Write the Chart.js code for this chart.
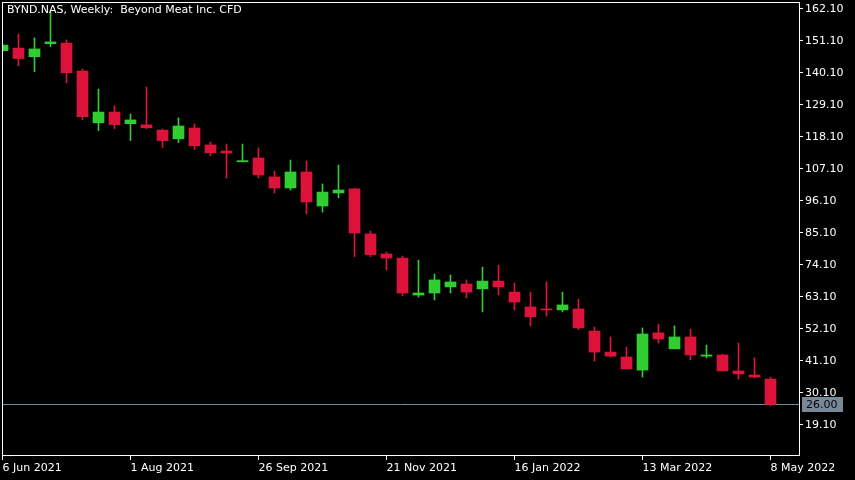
<!DOCTYPE html>
<html>
<head>
<meta charset="utf-8">
<title>BYND.NAS Weekly</title>
<script src="https://cdn.jsdelivr.net/npm/chart.js@4.4.1/dist/chart.umd.min.js"></script>
<style>
  html, body { margin: 0; padding: 0; background: #000; }
  canvas { display: block; }
</style>
</head>
<body>
<canvas id="chart" width="855" height="480"></canvas>
<script>
// weekly candles, 6 Jun 2021 .. 8 May 2022
const weeks = [
  "6 Jun 2021", "13 Jun 2021", "20 Jun 2021", "27 Jun 2021",
  "4 Jul 2021", "11 Jul 2021", "18 Jul 2021", "25 Jul 2021",
  "1 Aug 2021", "8 Aug 2021", "15 Aug 2021", "22 Aug 2021", "29 Aug 2021",
  "5 Sep 2021", "12 Sep 2021", "19 Sep 2021", "26 Sep 2021",
  "3 Oct 2021", "10 Oct 2021", "17 Oct 2021", "24 Oct 2021", "31 Oct 2021",
  "7 Nov 2021", "14 Nov 2021", "21 Nov 2021", "28 Nov 2021",
  "5 Dec 2021", "12 Dec 2021", "19 Dec 2021", "26 Dec 2021",
  "2 Jan 2022", "9 Jan 2022", "16 Jan 2022", "23 Jan 2022", "30 Jan 2022",
  "6 Feb 2022", "13 Feb 2022", "20 Feb 2022", "27 Feb 2022",
  "6 Mar 2022", "13 Mar 2022", "20 Mar 2022", "27 Mar 2022",
  "3 Apr 2022", "10 Apr 2022", "17 Apr 2022", "24 Apr 2022",
  "1 May 2022", "8 May 2022"
];
const open = [
  147.6, 148.5, 145.5, 150.0, 150.2, 140.6, 122.8, 126.5, 122.5, 122.1,
  120.3, 117.3, 121.0, 115.2, 113.1, 109.4, 110.7, 104.2, 100.4, 105.9,
  94.2, 98.7, 100.1, 84.6, 77.7, 76.3, 63.6, 64.3, 66.4, 67.4,
  65.7, 68.4, 64.6, 59.5, 58.8, 58.5, 58.8, 51.2, 44.0, 42.3,
  37.8, 50.6, 45.1, 49.2, 42.6, 43.0, 37.5, 36.1, 34.7
];
const high = [
  149.8, 153.3, 152.0, 160.9, 151.3, 141.3, 134.4, 128.6, 125.8, 135.1,
  120.7, 124.5, 122.4, 116.2, 115.5, 115.5, 114.2, 106.2, 110.0, 109.7,
  101.8, 108.3, 100.3, 85.6, 78.4, 77.0, 75.6, 70.8, 70.5, 68.8,
  73.2, 73.9, 67.7, 64.6, 68.1, 64.6, 62.2, 52.6, 49.2, 45.7,
  52.3, 53.6, 53.0, 51.9, 46.4, 43.3, 47.1, 42.0, 35.4
];
const low = [
  147.3, 142.4, 140.4, 149.0, 136.6, 123.9, 120.1, 120.8, 116.7, 120.8,
  114.3, 116.0, 113.6, 111.5, 103.8, 109.4, 103.8, 98.7, 99.7, 91.5,
  92.1, 97.0, 76.8, 76.8, 72.2, 63.3, 62.9, 61.9, 64.3, 62.6,
  57.8, 63.6, 58.5, 53.0, 56.4, 57.8, 51.6, 40.9, 42.3, 38.2,
  35.4, 47.1, 45.1, 41.3, 42.0, 37.5, 34.7, 35.1, 25.5
];
const close = [
  149.5, 144.9, 148.2, 150.6, 140.0, 124.9, 126.5, 122.2, 123.8, 121.1,
  116.7, 121.7, 114.9, 112.5, 112.4, 109.8, 104.9, 100.4, 105.9, 95.6,
  99.0, 99.7, 84.9, 77.5, 76.3, 64.3, 64.3, 68.8, 68.1, 64.6,
  68.4, 66.4, 61.2, 56.1, 58.5, 60.2, 52.3, 44.0, 42.6, 38.2,
  50.2, 48.5, 49.2, 43.0, 43.0, 37.5, 36.5, 35.4, 26.0
];
const priceTicks = [162.1, 151.1, 140.1, 129.1, 118.1, 107.1, 96.1, 85.1, 74.1, 63.1, 52.1, 41.1, 30.1, 19.1];
const dateTicks = [0, 8, 16, 24, 32, 40, 48];
const lastPrice = 26.00;
const titleText = "BYND.NAS, Weekly:  Beyond Meat Inc. CFD";

const BULL = "#32cd32";
const BEAR = "#dc143c";
const LAST = "#778899";
const FONT = "11px 'DejaVu Sans', sans-serif";

const colors = open.map((o, i) => (close[i] >= o ? BULL : BEAR));

// no label overhang padding, so the plot fills the window like MT5 does
function noPad(s) {
  s.paddingTop = 0;
  s.paddingBottom = 0;
  s.paddingLeft = 0;
  s.paddingRight = 0;
}

// background, frame, title, last-price line and tag
const mtDecor = {
  id: "mtDecor",
  beforeDraw(chart) {
    const { ctx, width, height } = chart;
    ctx.save();
    ctx.fillStyle = "#000";
    ctx.fillRect(0, 0, width, height);
    ctx.restore();
  },
  beforeDatasetsDraw(chart) {
    const { ctx, chartArea: a, scales } = chart;
    const y = Math.round(scales.y.getPixelForValue(lastPrice)) + 0.5;
    ctx.save();
    ctx.strokeStyle = LAST;
    ctx.lineWidth = 1;
    ctx.beginPath();
    ctx.moveTo(a.left, y);
    ctx.lineTo(a.right, y);
    ctx.stroke();
    ctx.restore();
  },
  afterDraw(chart) {
    const { ctx, chartArea: a, scales } = chart;
    ctx.save();
    ctx.strokeStyle = "#fff";
    ctx.lineWidth = 1;
    ctx.strokeRect(a.left + 0.5, a.top + 0.5, a.right - a.left, a.bottom - a.top - 1);

    ctx.font = FONT;
    ctx.fillStyle = "#fff";
    ctx.textBaseline = "top";
    ctx.textAlign = "left";
    ctx.fillText(titleText, 7, 5);

    const y = Math.round(scales.y.getPixelForValue(lastPrice));
    ctx.fillStyle = LAST;
    ctx.fillRect(a.right + 3, y - 7, 41, 15);
    ctx.fillStyle = "#000";
    ctx.textBaseline = "middle";
    ctx.fillText(lastPrice.toFixed(2), a.right + 7, y + 1);
    ctx.restore();
  },
};

new Chart(document.getElementById("chart"), {
  type: "bar",
  data: {
    datasets: [
      {
        label: "wick",
        data: weeks.map((_, i) => ({ x: i, y: [low[i], high[i]] })),
        backgroundColor: colors,
        maxBarThickness: 1,
        minBarLength: 1,
      },
      {
        label: "body",
        data: weeks.map((_, i) => ({ x: i, y: [open[i], close[i]] })),
        backgroundColor: colors,
        maxBarThickness: 11,
        minBarLength: 1,
      },
    ],
  },
  options: {
    responsive: false,
    animation: false,
    devicePixelRatio: 1,
    grouped: false,
    barPercentage: 1,
    categoryPercentage: 1,
    borderWidth: 0,
    layout: { padding: { left: 2, top: 2, right: 0, bottom: 0 } },
    plugins: {
      legend: { display: false },
      tooltip: { enabled: false },
    },
    scales: {
      x: {
        type: "linear",
        offset: false,
        min: -0.03125,
        max: 49.78125,
        afterBuildTicks: (s) => { s.ticks = dateTicks.map((v) => ({ value: v })); },
        afterFit: (s) => { s.height = 24; noPad(s); },
        border: { display: false },
        grid: { offset: false, drawOnChartArea: false, drawTicks: true, tickLength: 4, color: "#fff" },
        ticks: {
          autoSkip: false,
          maxRotation: 0,
          align: "start",
          padding: 2,
          color: "#fff",
          font: { family: "'DejaVu Sans', sans-serif", size: 11 },
          callback: (v) => weeks[v],
        },
      },
      y: {
        position: "right",
        min: 8.27,
        max: 164.33,
        afterBuildTicks: (s) => { s.ticks = priceTicks.map((v) => ({ value: v })); },
        afterFit: (s) => { s.width = 56; noPad(s); },
        border: { display: false },
        grid: { drawOnChartArea: false, drawTicks: true, tickLength: 4, color: "#fff" },
        ticks: {
          padding: 2,
          labelOffset: 1,
          color: "#fff",
          font: { family: "'DejaVu Sans', sans-serif", size: 11 },
          callback: (v) => v.toFixed(2),
        },
      },
    },
  },
  plugins: [mtDecor],
});
</script>
</body>
</html>
